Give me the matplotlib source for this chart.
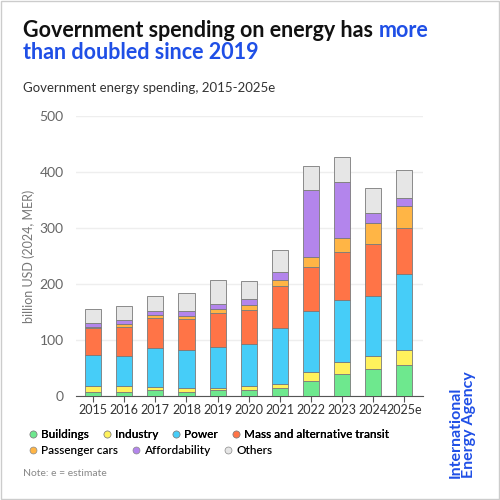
import matplotlib.pyplot as plt
from matplotlib.lines import Line2D
from matplotlib.patches import Rectangle
import numpy as np

plt.rcParams['font.family'] = ['Lato', 'DejaVu Sans']

years = ['2015', '2016', '2017', '2018', '2019', '2020', '2021', '2022', '2023', '2024', '2025e']
buildings = [8, 8, 10, 8, 10, 10, 15, 26, 40, 48, 56]
industry = [10, 9, 6, 6, 5, 7, 7, 17, 21, 23, 27]
power = [56, 55, 69, 69, 72, 75, 100, 109, 110, 108, 135]
mass_transit = [47, 52, 55, 55, 62, 62, 74, 79, 87, 92, 82]
passenger_cars = [3, 5, 4, 5, 6, 8, 12, 17, 25, 38, 40]
affordability = [7, 7, 8, 8, 10, 12, 13, 119, 100, 17, 13]
others = [25, 25, 27, 33, 43, 31, 40, 43, 44, 46, 51]

series = [
    ('Buildings', buildings, '#6ee88e'),
    ('Industry', industry, '#fff25c'),
    ('Power', power, '#46cdf8'),
    ('Mass and alternative transit', mass_transit, '#ff7447'),
    ('Passenger cars', passenger_cars, '#ffb545'),
    ('Affordability', affordability, '#b385ec'),
    ('Others', others, '#e6e6e6'),
]

fig = plt.figure(figsize=(5, 5), dpi=100)
fig.patches.append(Rectangle((0.002, 0.002), 0.996, 0.996, transform=fig.transFigure,
                             fill=False, edgecolor='#cccccc', linewidth=1))

ax = fig.add_axes([0.152, 0.208, 0.694, 0.56])
x = np.arange(len(years))
bottom = np.zeros(len(years))
for name, vals, color in series:
    ax.bar(x, vals, 0.52, bottom=bottom, color=color, edgecolor='#7a7a7a', linewidth=0.6,
           zorder=3)
    bottom += np.array(vals)

ax.set_xlim(-0.55, 10.6)
ax.set_ylim(0, 500)
ax.set_yticks([0, 100, 200, 300, 400, 500])
ax.yaxis.grid(True, color='#eeeeee', linewidth=1, zorder=0)
ax.set_xticks(x)
ax.set_xticklabels(years)
for s in ['top', 'right', 'left']:
    ax.spines[s].set_visible(False)
ax.spines['bottom'].set_color('#555555')
ax.tick_params(axis='y', length=0, labelsize=10, labelcolor='#666666', pad=9)
ax.tick_params(axis='x', length=4, color='#555555', labelsize=9, labelcolor='#333333', pad=2)
ax.set_ylabel('billion USD (2024, MER)', fontsize=9, color='#777777', labelpad=3)

# title
t1 = fig.text(0.046, 0.926, 'Government spending on energy has ', fontsize=15.5,
              fontweight='bold', color='#111111', va='baseline')
fig.canvas.draw()
bb = t1.get_window_extent(renderer=fig.canvas.get_renderer())
fig.text(bb.x1 / fig.bbox.width, 0.926, 'more', fontsize=15.5, fontweight='bold',
         color='#1f4fe6', va='baseline')
fig.text(0.046, 0.882, 'than doubled since 2019', fontsize=15.5, fontweight='bold',
         color='#1f4fe6', va='baseline')
fig.text(0.046, 0.816, 'Government energy spending, 2015-2025e', fontsize=9.5,
         color='#333333', va='baseline')

# legend in two flowing rows
def handles(items):
    return [Line2D([], [], marker='o', linestyle='', markersize=5, markerfacecolor=c,
                   markeredgecolor='#888888', markeredgewidth=0.5, label=n) for n, _, c in items]

leg1 = fig.legend(handles=handles(series[:4]), loc='upper left', bbox_to_anchor=(0.042, 0.151),
                  ncol=4, frameon=False, fontsize=8.5, handletextpad=0.1, columnspacing=0.9,
                  borderaxespad=0, handlelength=1.2)
for t in leg1.get_texts():
    t.set_fontweight('semibold')
leg2 = fig.legend(handles=handles(series[4:]), loc='upper left', bbox_to_anchor=(0.042, 0.119),
                  ncol=3, frameon=False, fontsize=8.5, handletextpad=0.1, columnspacing=0.9,
                  borderaxespad=0, handlelength=1.2)
for t in leg2.get_texts():
    t.set_fontweight('semibold')
fig.add_artist(leg1)

fig.text(0.046, 0.048, 'Note: e = estimate', fontsize=7.5, color='#888888', va='baseline')
fig.text(0.898, 0.044, 'International\nEnergy Agency', rotation=90, fontsize=11.5,
         fontweight='bold', color='#1f4fe6', ha='left', va='bottom', linespacing=0.9)

fig.savefig('out.png', dpi=100)
